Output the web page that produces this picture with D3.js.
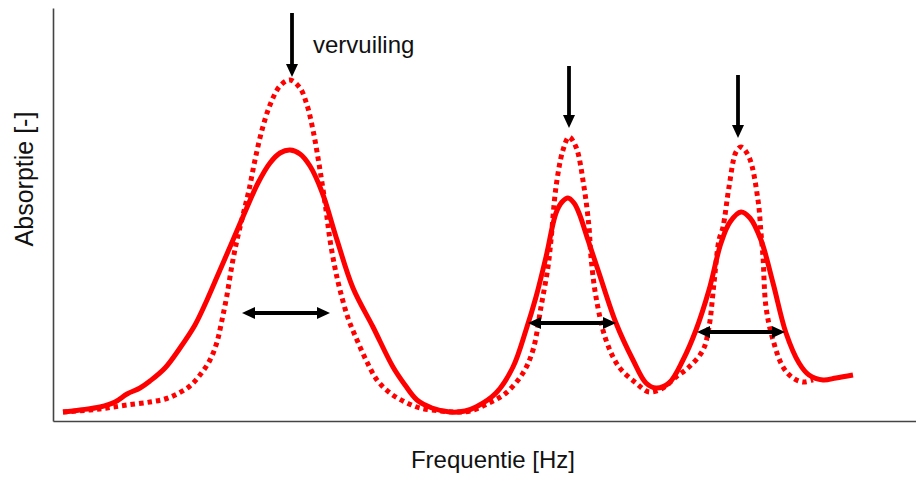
<!DOCTYPE html>
<html>
<head>
<meta charset="utf-8">
<script src="https://cdn.jsdelivr.net/npm/d3@7"></script>
<style>
  body { margin: 0; background: #fff; }
  text { font-family: "Liberation Sans", Arial, sans-serif; fill: #111; }
</style>
</head>
<body>
<svg width="916" height="477"></svg>
<script>
// spectrum, arbitrary units: freq 0..86.3, absorptie 0..41.3
var schoon = [
  [1.0,0.9],[2.7,1.1],[4.7,1.4],[6.2,1.9],[7.4,2.7],[8.7,3.3],[9.7,4.0],[11.2,5.3],
  [12.7,7.3],[14.2,9.6],[15.4,12.1],[16.7,15.1],[18.0,18.1],[19.2,20.9],[20.5,23.8],
  [21.7,25.8],[22.7,26.8],[23.7,27.1],[24.7,26.7],[25.7,25.5],[26.9,22.9],[28.4,18.1],
  [30.0,13.3],[32.0,9.4],[34.0,5.4],[35.2,3.6],[36.4,2.1],[37.9,1.3],[39.7,0.9],
  [41.2,1.0],[42.3,1.4],[44.3,2.8],[46.0,5.4],[47.3,9.1],[48.3,12.4],[49.3,16.4],
  [50.3,20.8],[50.9,21.9],[51.5,22.3],[52.1,21.8],[52.6,20.8],[53.5,18.1],[54.6,14.8],
  [56.3,9.8],[58.0,6.1],[59.3,3.8],[60.3,3.3],[61.6,3.8],[63.0,6.1],[64.3,9.1],
  [65.6,13.1],[66.8,17.8],[67.7,19.9],[68.8,20.9],[69.7,20.3],[70.8,18.1],[72.0,13.8],
  [73.3,8.8],[74.6,5.8],[75.6,4.6],[77.0,4.1],[78.3,4.3],[80.0,4.6]
];
var vervuild = [
  [1.0,0.9],[3.7,1.1],[5.4,1.3],[7.4,1.6],[9.7,1.9],[11.2,2.2],[12.4,2.7],[13.7,3.5],
  [14.7,4.6],[15.7,6.1],[16.4,7.9],[16.9,10.1],[17.4,12.6],[17.9,15.6],[18.4,18.1],
  [19.0,20.6],[19.6,23.1],[20.2,26.1],[20.9,29.1],[21.7,31.6],[22.7,33.5],[23.7,34.1],
  [24.7,33.3],[25.4,31.6],[26.0,29.1],[26.7,25.1],[27.3,21.1],[27.7,18.1],[28.2,15.3],
  [28.7,13.1],[29.5,10.3],[30.4,8.1],[31.4,5.9],[32.4,4.1],[33.7,2.8],[35.2,1.9],
  [36.7,1.3],[38.7,1.0],[40.2,0.9],[41.7,1.0],[43.6,1.8],[45.3,2.8],[47.0,4.8],
  [48.0,7.1],[48.8,11.4],[49.5,15.4],[49.8,18.1],[50.3,23.4],[51.0,27.1],[51.6,28.4],
  [52.3,27.4],[53.1,23.4],[53.6,19.4],[53.8,16.4],[54.3,12.4],[55.3,8.1],[56.6,5.4],
  [58.3,3.8],[59.6,2.9],[61.0,3.3],[62.3,4.4],[63.6,5.4],[65.0,7.1],[65.6,9.4],
  [66.1,13.8],[66.6,18.1],[67.0,19.4],[67.6,23.4],[68.3,26.9],[68.8,27.4],[69.6,26.4],
  [70.5,22.1],[70.8,18.8],[71.0,16.4],[71.3,11.4],[72.0,8.1],[73.0,5.4],[74.0,4.3],
  [75.0,3.9],[76.0,4.1]
];
// down arrows above peaks: x, top, tip
var pijlen = [[23.9,40.8,34.4],[51.6,35.5,29.3],[68.5,34.6,28.3]];
// peak widths: x1, x2, y
var breedtes = [[18.9,27.7,10.8],[47.5,56.3,9.8],[64.4,73.2,8.9]];
var labelX = "Frequentie [Hz]";
var labelY = "Absorptie [-]";
var notitie = "vervuiling";

var svg = d3.select("svg");
var x = d3.scaleLinear().domain([0,86.3]).range([53,916]);
var y = d3.scaleLinear().domain([0,41.3]).range([421,8]);

// arrow head: tip sits 6px past the (shortened) shaft end
var inkort = 6;
var defs = svg.append("defs");
defs.append("marker").attr("id","kop").attr("viewBox","0 0 13 12")
    .attr("refX",13 - inkort).attr("refY",6).attr("markerWidth",13).attr("markerHeight",12)
    .attr("markerUnits","userSpaceOnUse").attr("orient","auto-start-reverse")
  .append("path").attr("d","M0,0L13,6L0,12z").attr("fill","#000");

// axes, no ticks
svg.append("g").attr("transform","translate(0,"+y(0)+")")
    .call(d3.axisBottom(x).tickValues([]).tickSizeOuter(0))
    .select(".domain").attr("stroke","#444").attr("stroke-width",1.6);
svg.append("g").attr("transform","translate("+x(0)+",0)")
    .call(d3.axisLeft(y).tickValues([]).tickSizeOuter(0))
    .select(".domain").attr("stroke","#444").attr("stroke-width",1.6);

var line = d3.line().x(function(d){return x(d[0])}).y(function(d){return y(d[1])})
    .curve(d3.curveCatmullRom.alpha(0.5));

svg.append("path").datum(vervuild).attr("d",line)
    .attr("fill","none").attr("stroke","#ff0000").attr("stroke-width",5)
    .attr("stroke-dasharray","4.5,4");
svg.append("path").datum(schoon).attr("d",line)
    .attr("fill","none").attr("stroke","#ff0000").attr("stroke-width",5)
    .attr("stroke-linejoin","round");

svg.selectAll("line.pijl").data(pijlen).enter().append("line").attr("class","pijl")
    .attr("x1",function(d){return x(d[0])}).attr("x2",function(d){return x(d[0])})
    .attr("y1",function(d){return y(d[1])}).attr("y2",function(d){return y(d[2]) - inkort})
    .attr("stroke","#000").attr("stroke-width",3.8).attr("marker-end","url(#kop)");

svg.selectAll("line.breedte").data(breedtes).enter().append("line").attr("class","breedte")
    .attr("x1",function(d){return x(d[0]) + inkort}).attr("x2",function(d){return x(d[1]) - inkort})
    .attr("y1",function(d){return y(d[2])}).attr("y2",function(d){return y(d[2])})
    .attr("stroke","#000").attr("stroke-width",3.8)
    .attr("marker-start","url(#kop)").attr("marker-end","url(#kop)");

svg.append("text").attr("x",313).attr("y",53).attr("font-size",24).text(notitie);
svg.append("text").attr("x",493).attr("y",468).attr("font-size",24)
    .attr("text-anchor","middle").text(labelX);
svg.append("text").attr("transform","translate(33,179) rotate(-90)").attr("font-size",25)
    .attr("text-anchor","middle").text(labelY);
</script>
</body>
</html>
